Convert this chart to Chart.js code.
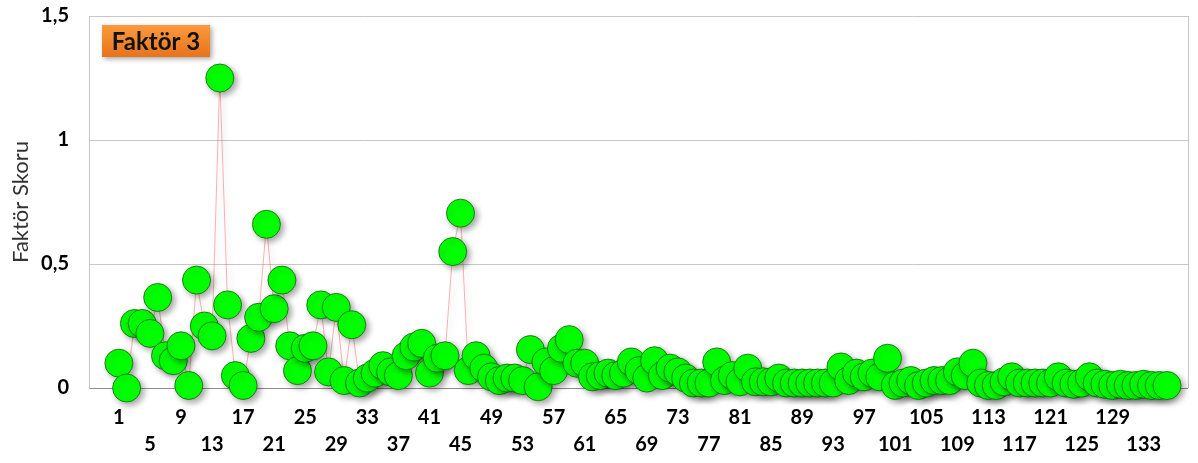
<!DOCTYPE html>
<html>
<head>
<meta charset="utf-8">
<title>Faktör 3</title>
<script src="https://cdn.jsdelivr.net/npm/chart.js@4.4.1/dist/chart.umd.min.js"></script>
<style>
  html, body { margin: 0; padding: 0; background: #fff; }
  #wrap { width: 1198px; height: 463px; }
</style>
</head>
<body>
<div id="wrap"><canvas id="graphCanvas" width="1198" height="463"></canvas></div>
<script>
// factor scores per observation (1..136)
const factorScores = [
  0.10, 0.00, 0.26, 0.26, 0.22, 0.365, 0.13, 0.11, 0.17, 0.01,
  0.435, 0.25, 0.21, 1.25, 0.335, 0.05, 0.01, 0.20, 0.285, 0.66,
  0.32, 0.435, 0.17, 0.07, 0.16, 0.17, 0.335, 0.065, 0.325, 0.03,
  0.255, 0.02, 0.04, 0.06, 0.09, 0.065, 0.05, 0.13, 0.165, 0.18,
  0.06, 0.12, 0.13, 0.55, 0.705, 0.07, 0.13, 0.08, 0.045, 0.03,
  0.04, 0.04, 0.03, 0.155, 0.005, 0.105, 0.07, 0.16, 0.195, 0.10,
  0.10, 0.045, 0.05, 0.06, 0.05, 0.06, 0.105, 0.07, 0.04, 0.11,
  0.05, 0.08, 0.065, 0.04, 0.02, 0.02, 0.02, 0.105, 0.03, 0.05,
  0.025, 0.08, 0.025, 0.025, 0.025, 0.04, 0.02, 0.02, 0.02, 0.02,
  0.02, 0.02, 0.02, 0.085, 0.03, 0.06, 0.045, 0.06, 0.045, 0.12,
  0.01, 0.02, 0.03, 0.01, 0.02, 0.03, 0.03, 0.03, 0.065, 0.05,
  0.10, 0.02, 0.01, 0.01, 0.025, 0.045, 0.02, 0.02, 0.02, 0.02,
  0.02, 0.045, 0.02, 0.015, 0.02, 0.045, 0.02, 0.015, 0.01, 0.015,
  0.01, 0.01, 0.015, 0.01, 0.01, 0.01
];
const observations = factorScores.map((v, i) => i + 1);

// x labels every 4th observation, written in two staggered rows
const xTickLabels = [1, 5, 9, 13, 17, 21, 25, 29, 33, 37, 41, 45, 49, 53, 57, 61, 65,
  69, 73, 77, 81, 85, 89, 93, 97, 101, 105, 109, 113, 117, 121, 125, 129, 133];
const yTickLabels = { 0: '0', 0.5: '0,5', 1: '1', 1.5: '1,5' };

const chartTitle = 'Faktör 3';
const yAxisTitle = 'Faktör Skoru';

const ctx = document.getElementById('graphCanvas').getContext('2d');

// soft drop shadow under markers
const shadowPlugin = {
  id: 'markerShadow',
  beforeDatasetsDraw(chart) {
    const c = chart.ctx;
    const a = chart.chartArea;
    // right frame edge
    c.save();
    c.strokeStyle = '#c4c4c4';
    c.lineWidth = 1;
    c.beginPath();
    c.moveTo(Math.round(a.right) + 0.5, a.top);
    c.lineTo(Math.round(a.right) + 0.5, a.bottom);
    c.stroke();
    c.restore();

    c.save();
    c.shadowColor = 'rgba(0,0,0,0.35)';
    c.shadowBlur = 6;
    c.shadowOffsetX = 3;
    c.shadowOffsetY = 3;
  },
  afterDatasetsDraw(chart) {
    chart.ctx.restore();
  }
};

// orange label box in the top-left corner
const titleBoxPlugin = {
  id: 'titleBox',
  afterDraw(chart) {
    const c = chart.ctx;
    const x = 102, y = 25, w = 108, h = 32;
    c.save();
    c.shadowColor = 'rgba(0,0,0,0.35)';
    c.shadowBlur = 5;
    c.shadowOffsetX = 2;
    c.shadowOffsetY = 2;
    const g = c.createLinearGradient(0, y, 0, y + h);
    g.addColorStop(0, '#fa9a3c');
    g.addColorStop(1, '#e8731c');
    c.fillStyle = g;
    c.fillRect(x, y, w, h);
    c.restore();

    c.save();
    c.fillStyle = '#111';
    c.font = 'bold 24px Lato, "DejaVu Sans", sans-serif';
    c.textAlign = 'center';
    c.textBaseline = 'middle';
    c.fillText(chartTitle, x + w / 2, y + h / 2 + 1);
    c.restore();
  }
};

new Chart(ctx, {
  type: 'line',
  data: {
    datasets: [{
      label: yAxisTitle,
      data: observations.map((n, i) => ({ x: n, y: factorScores[i] })),
      borderColor: 'rgba(255, 60, 60, 0.4)',
      borderWidth: 1,
      tension: 0,
      fill: false,
      clip: false,
      pointRadius: 14,
      pointHoverRadius: 14,
      pointBackgroundColor: '#00ff00',
      pointBorderColor: 'rgba(20, 110, 10, 0.85)',
      pointBorderWidth: 1
    }]
  },
  options: {
    responsive: false,
    animation: false,
    layout: { autoPadding: false, padding: { top: 16, right: 10, left: 0, bottom: 0 } },
    plugins: {
      legend: { display: false },
      tooltip: { enabled: false }
    },
    scales: {
      x: {
        type: 'linear',
        min: -2.85,
        max: 138.7,
        afterBuildTicks(scale) {
          scale.ticks = xTickLabels.map(v => ({ value: v }));
        },
        afterFit(scale) {
          scale.height = 75;
          scale.paddingLeft = 0;
          scale.paddingRight = 0;
        },
        grid: { display: false, drawTicks: false },
        border: { display: false },
        ticks: {
          autoSkip: false,
          maxRotation: 0,
          padding: 16,
          color: '#000',
          font: { family: 'Lato, "DejaVu Sans", sans-serif', size: 20, weight: 'bold', lineHeight: 1.35 },
          callback(value) {
            const k = xTickLabels.indexOf(value);
            return k % 2 === 0 ? [String(value)] : ['', String(value)];
          }
        }
      },
      y: {
        min: 0,
        max: 1.5,
        afterFit(scale) {
          scale.width = 89;
          scale.paddingTop = 0;
          scale.paddingBottom = 0;
        },
        grid: {
          drawTicks: false,
          color: ctx2 => ctx2.tick && ctx2.tick.value === 0 ? '#8c8c8c' : '#c8c8c8'
        },
        border: { display: true, color: '#c4c4c4' },
        ticks: {
          stepSize: 0.5,
          padding: 20,
          color: '#000',
          font: { family: 'Lato, "DejaVu Sans", sans-serif', size: 20, weight: 'bold' },
          callback: value => yTickLabels[value] ?? ''
        },
        title: {
          display: true,
          text: yAxisTitle,
          color: '#333',
          padding: { top: 8, bottom: 0 },
          font: { family: 'Lato, "DejaVu Sans", sans-serif', size: 22 }
        }
      }
    }
  },
  plugins: [shadowPlugin, titleBoxPlugin]
});
</script>
</body>
</html>
